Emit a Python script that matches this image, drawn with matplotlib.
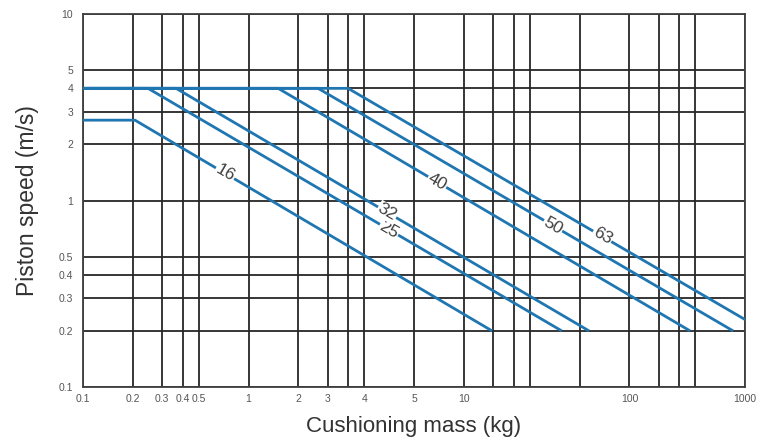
import numpy as np
import matplotlib
matplotlib.use("Agg")
import matplotlib.pyplot as plt

plt.rcParams['font.family'] = ['Liberation Sans', 'DejaVu Sans']

# ---- data ----
bores = ["16", "25", "32", "40", "50", "63"]
mass_16 = [0.1, 0.206, 29.6]
speed_16 = [2.7, 2.7, 0.2]
mass_25 = [0.1, 0.247, 78.0]
speed_25 = [4.0, 4.0, 0.2]
mass_32 = [0.1, 0.365, 114.0]
speed_32 = [4.0, 4.0, 0.2]
mass_40 = [0.1, 1.51, 465.0]
speed_40 = [4.0, 4.0, 0.2]
mass_50 = [0.1, 2.63, 846.0]
speed_50 = [4.0, 4.0, 0.2]
mass_63 = [0.1, 3.99, 1000.0]
speed_63 = [4.0, 4.0, 0.23]

# grid positions and tick labels as printed
x_grid = [0.1, 0.2, 0.3, 0.4, 0.5, 1, 2, 3, 4, 5, 10, 20, 30, 40, 50,
          100, 200, 300, 400, 500, 1000]
x_labels = ["0.1", "0.2", "0.3", "0.4", "0.5", "1", "2", "3", "", "4", "5",
            "10", "", "", "", "", "100", "", "", "", "1000"]
y_grid = [0.1, 0.2, 0.3, 0.4, 0.5, 1, 2, 3, 4, 5, 10]
y_labels = ["0.1", "0.2", "0.3", "0.4", "0.5", "1", "2", "3", "4", "5", "10"]

# where along each curve (mass) the bore label sits
label_mass = [0.721, 7.06, 6.87, 13.8, 69.2, 137.0]

masses = [mass_16, mass_25, mass_32, mass_40, mass_50, mass_63]
speeds = [speed_16, speed_25, speed_32, speed_40, speed_50, speed_63]

fig = plt.figure(figsize=(7.58, 4.42), dpi=100)
ax = fig.add_axes([0.1095, 0.1244, 0.8735, 0.8436])
ax.set_xscale('log')
ax.set_yscale('log')
ax.set_xlim(0.1, 1000)
ax.set_ylim(0.1, 10)

ax.set_xticks(x_grid)
ax.set_xticklabels(x_labels)
ax.set_yticks(y_grid)
ax.set_yticklabels(y_labels)
ax.minorticks_off()
ax.tick_params(axis='both', length=0, labelsize=7.5, colors='#555555')
ax.tick_params(axis='x', pad=5)
ax.tick_params(axis='y', pad=7)
ax.grid(True, which='major', color='#262626', linewidth=1.3, zorder=1)
ax.set_axisbelow(True)
for s in ax.spines.values():
    s.set_color('#404040')
    s.set_linewidth(1.3)

line_color = '#1f76b1'
for m, v, lab, lm in zip(masses, speeds, bores, label_mass):
    ax.plot(m, v, color=line_color, linewidth=2.0, zorder=3,
            solid_capstyle='butt')
    lv = 10 ** np.interp(np.log10(lm), np.log10(m), np.log10(v))
    ax.text(lm, lv, lab, rotation=-30, rotation_mode='anchor',
            ha='center', va='center', fontsize=12.5, color='#404040',
            zorder=5,
            bbox=dict(facecolor='white', edgecolor='none', pad=0.6))

ax.set_xlabel("Cushioning mass (kg)", fontsize=16, color='#333333',
              labelpad=9)
ax.set_ylabel("Piston speed (m/s)", fontsize=16.5, color='#333333',
              labelpad=14)

fig.savefig("out.png", dpi=100)
